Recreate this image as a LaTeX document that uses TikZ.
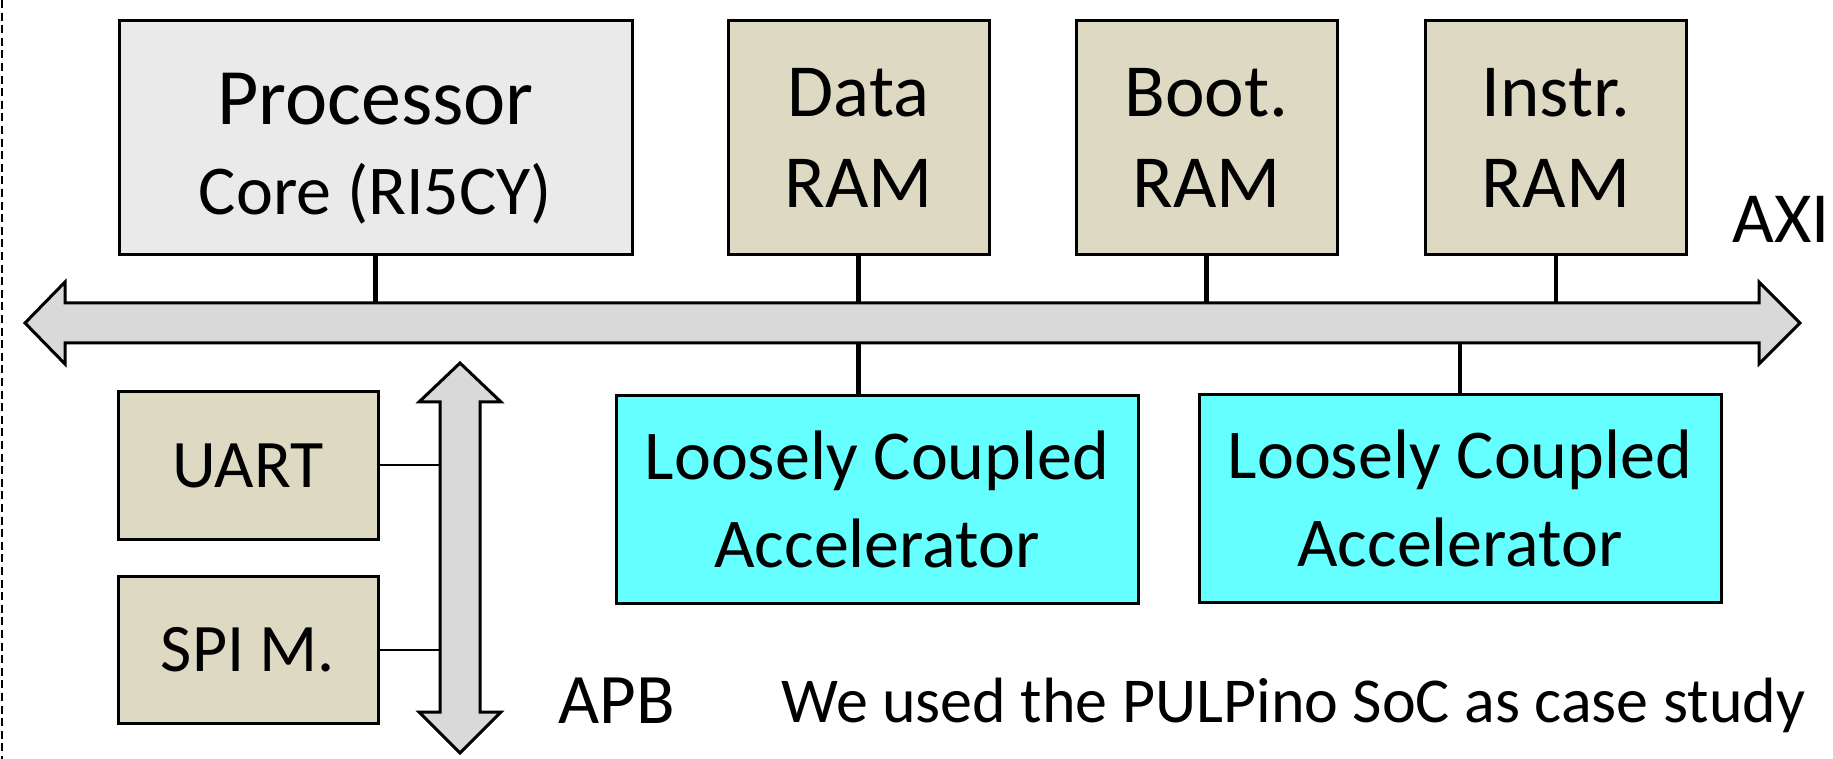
\documentclass[tikz,border=0pt]{standalone}
\usepackage{fontspec}
\setmainfont{Carlito}

\definecolor{coregray}{HTML}{EAEAEA}
\definecolor{ramtan}{HTML}{DDD9C3}
\definecolor{acccyan}{HTML}{66FFFF}
\definecolor{busgray}{HTML}{D9D9D9}

\begin{document}
\begin{tikzpicture}[x=0.5pt,y=-0.5pt]
        \tikzstyle{block}=[draw, line width=1.5pt, inner sep=0pt, align=center];
        \tikzstyle{ram}=[block, fill=ramtan, minimum width=130.5pt, minimum height=117pt, text depth=0pt, font=\fontsize{37.5}{45.5}\selectfont];
        \tikzstyle{acc}=[block, fill=acccyan, minimum width=261pt, minimum height=104pt, font=\fontsize{35}{44}\selectfont];
        \tikzstyle{periph}=[block, fill=ramtan, minimum width=130pt, minimum height=73.5pt, font=\fontsize{34}{40}\selectfont];
        \tikzstyle{bus}=[draw, line width=1.5pt, fill=busgray, line join=miter];
        \tikzstyle{link}=[line width=2.2pt];
        \tikzstyle{thinlink}=[line width=1pt];
        \tikzstyle{lbl}=[inner sep=0pt];

        \useasboundingbox (0,0) rectangle (1833,759);
        \draw[dash pattern=on 4pt off 2.3pt, line width=0.7pt] (2,0) -- (2,759);

        \node[block, fill=coregray, minimum width=256.5pt, minimum height=117pt, text depth=0pt, font=\fontsize{40}{45}\selectfont] (core) at (375.5,138) {\rule{0pt}{32pt}Processor\\{\fontsize{35}{45}\selectfont Core (RI5CY)}};
        \node[ram] (dram) at (858.5,138) {Data\\RAM};
        \node[ram] (bram) at (1206.5,138) {Boot.\\RAM};
        \node[ram] (iram) at (1556,138) {Instr.\\RAM};

        \node[acc] (acc1) at (877,499.5) {Loosely Coupled\\Accelerator};
        \node[acc] (acc2) at (1460,498.5) {Loosely Coupled\\Accelerator};

        \node[periph] (uart) at (248,465.5) {UART};
        \node[periph] (spi) at (248,649.5) {SPI M.};

        % AXI bus
        \draw[bus] (25,323) -- (65,282) -- (65,303) -- (1759,303) -- (1759,282) -- (1800,323)
                -- (1759,364) -- (1759,343) -- (65,343) -- (65,364) -- cycle;
        \coordinate (axitop) at (0,303);
        \coordinate (axibot) at (0,343);

        % APB bus
        \draw[bus] (460,363) -- (501,402) -- (480,402) -- (480,712) -- (501,712) -- (460,753)
                -- (419,712) -- (440,712) -- (440,402) -- (419,402) -- cycle;
        \coordinate (apbleft) at (440,0);

        \draw[link] (core.south) -- (core.south |- axitop);
        \draw[link] (dram.south) -- (dram.south |- axitop);
        \draw[link] (bram.south) -- (bram.south |- axitop);
        \draw[link] (iram.south) -- (iram.south |- axitop);
        \draw[link] (acc1.north -| dram.south) -- (dram.south |- axibot);
        \draw[link] (acc2.north) -- (acc2.north |- axibot);
        \draw[thinlink] (uart.east) -- (uart.east -| apbleft);
        \draw[thinlink] (spi.east) -- (spi.east -| apbleft);

        \node[lbl, font=\fontsize{36}{36}\selectfont, anchor=base east] (axi) at (1830,243) {AXI};
        \node[lbl, font=\fontsize{35.5}{36}\selectfont, anchor=base west] (apb) at (558,723) {APB};
        \node[lbl, font=\fontsize{32}{32}\selectfont, anchor=base west] (note) at (781,722) {We used the PULPino SoC as case study};
\end{tikzpicture}
\end{document}
